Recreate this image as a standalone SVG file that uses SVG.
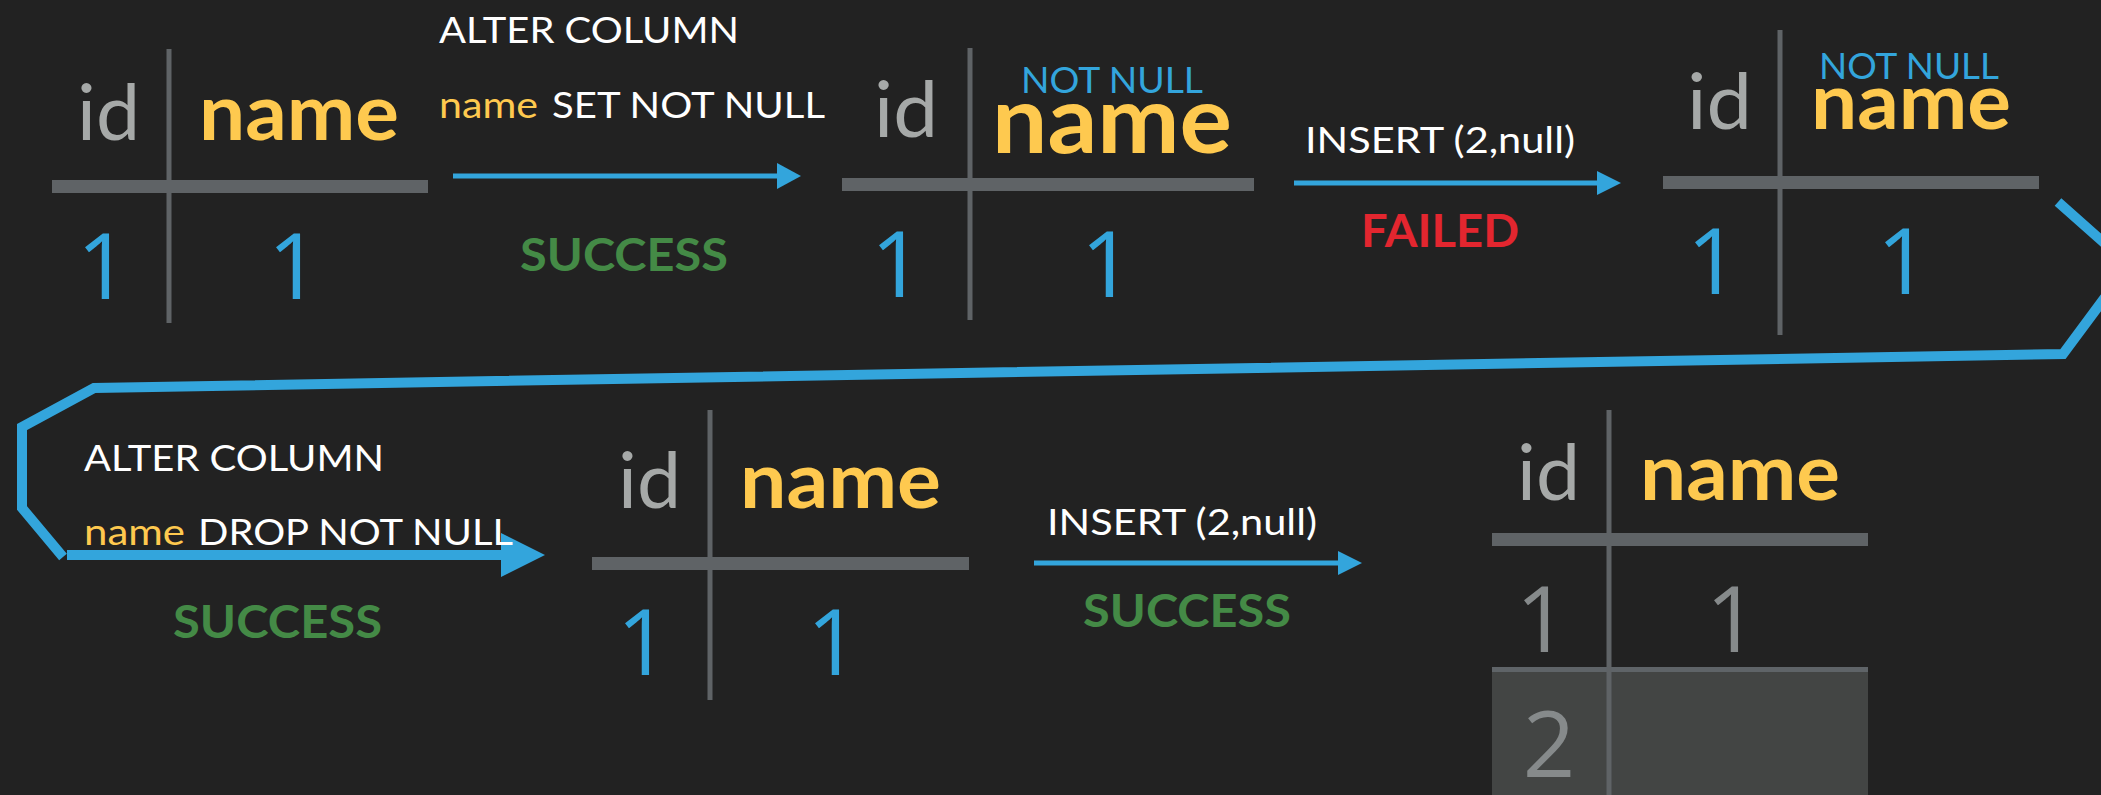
<svg xmlns="http://www.w3.org/2000/svg" width="2101" height="795" viewBox="0 0 2101 795">
<style>
text{font-family:Lato,"Open Sans","Liberation Sans",sans-serif}
.id{fill:#a6a9a8;font-size:78px}
.nm{fill:#fec94f;font-size:78px;font-weight:700}
.nmb{fill:#fec94f;font-size:94px;font-weight:700}
.v,.vg{font-family:"Open Sans","Noto Sans",sans-serif;font-size:92px;text-anchor:middle}
.v{fill:#33a5dc}
.vg{fill:#868a8b}
.nn{fill:#33a5dc;font-size:36px}
.w{fill:#ffffff;font-size:37px}
.y{fill:#fec94f;font-size:37px}
.ok{fill:#448a46;font-size:46px;font-weight:700}
.bad{fill:#e3262f;font-size:46px;font-weight:700}
.bar{fill:#5f6366}
.div{stroke:#5f6366;stroke-width:5}
.ln{stroke:#33a5dc;stroke-width:5;fill:none}
.big{stroke:#33a5dc;stroke-width:10;fill:none;stroke-linejoin:miter}
.hd{fill:#33a5dc}
</style>
<rect width="2101" height="795" fill="#222222"/>

<g id="table1">
<line class="div" x1="169" y1="49" x2="169" y2="323"/>
<rect class="bar" x="52" y="180" width="376" height="13"/>
<text class="id" x="77" y="140" textLength="63" lengthAdjust="spacingAndGlyphs">id</text>
<text class="nm" x="199" y="140" textLength="200" lengthAdjust="spacingAndGlyphs">name</text>
<text class="v" x="103" y="299">1</text>
<text class="v" x="294" y="299">1</text>
</g>

<g id="table2">
<line class="div" x1="970" y1="48" x2="970" y2="320"/>
<rect class="bar" x="842" y="178" width="412" height="13"/>
<text class="id" x="874" y="137" textLength="64" lengthAdjust="spacingAndGlyphs">id</text>
<text class="nn" x="1021" y="93" textLength="182" lengthAdjust="spacingAndGlyphs">NOT NULL</text>
<text class="nmb" x="992" y="153" textLength="240" lengthAdjust="spacingAndGlyphs">name</text>
<text class="v" x="897" y="297">1</text>
<text class="v" x="1107" y="297">1</text>
</g>

<g id="table3">
<line class="div" x1="1780" y1="30" x2="1780" y2="335"/>
<rect class="bar" x="1663" y="176" width="376" height="13"/>
<text class="id" x="1687" y="129" textLength="65" lengthAdjust="spacingAndGlyphs">id</text>
<text class="nn" x="1819" y="79" textLength="180" lengthAdjust="spacingAndGlyphs">NOT NULL</text>
<text class="nm" x="1811" y="129" textLength="200" lengthAdjust="spacingAndGlyphs">name</text>
<text class="v" x="1713" y="294">1</text>
<text class="v" x="1903" y="294">1</text>
</g>

<g id="table4">
<line class="div" x1="710" y1="410" x2="710" y2="700"/>
<rect class="bar" x="592" y="557" width="377" height="13"/>
<text class="id" x="618" y="508" textLength="63" lengthAdjust="spacingAndGlyphs">id</text>
<text class="nm" x="740" y="508" textLength="201" lengthAdjust="spacingAndGlyphs">name</text>
<text class="v" x="643" y="675">1</text>
<text class="v" x="833" y="675">1</text>
</g>

<g id="table5">
<rect x="1492" y="667" width="376" height="128" fill="#434544"/>
<rect x="1492" y="667" width="376" height="5" fill="#5f6468"/>
<line class="div" x1="1609" y1="410" x2="1609" y2="795"/>
<rect class="bar" x="1492" y="533" width="376" height="13"/>
<text class="id" x="1517" y="500" textLength="63" lengthAdjust="spacingAndGlyphs">id</text>
<text class="nm" x="1640" y="500" textLength="200" lengthAdjust="spacingAndGlyphs">name</text>
<text class="vg" x="1542" y="652">1</text>
<text class="vg" x="1732" y="652">1</text>
<text class="vg" x="1549" y="777">2</text>
</g>

<g id="connectors">
<line class="ln" x1="453" y1="176" x2="779" y2="176"/>
<polygon class="hd" points="777,163 801,176 777,189"/>
<line class="ln" x1="1294" y1="183" x2="1599" y2="183"/>
<polygon class="hd" points="1597,171 1621,183 1597,195"/>
<line class="ln" x1="1034" y1="563" x2="1340" y2="563"/>
<polygon class="hd" points="1338,551 1362,563 1338,575"/>
<polyline class="big" points="2058,202 2129,265 2063,354 94,388 22,427 22,508 63,557"/>
<line class="big" x1="67" y1="555" x2="503" y2="555"/>
<polygon class="hd" points="501,533 545,555 501,577"/>
</g>

<g id="labels">
<text class="w" x="439" y="43" textLength="300" lengthAdjust="spacingAndGlyphs">ALTER COLUMN</text>
<text class="y" x="439" y="118" textLength="99" lengthAdjust="spacingAndGlyphs">name</text>
<text class="w" x="552" y="118" textLength="273" lengthAdjust="spacingAndGlyphs">SET NOT NULL</text>
<text class="ok" x="520" y="271" textLength="208" lengthAdjust="spacingAndGlyphs">SUCCESS</text>
<text class="w" x="1305" y="153" textLength="270" lengthAdjust="spacingAndGlyphs">INSERT (2,null)</text>
<text class="bad" x="1361" y="247" textLength="158" lengthAdjust="spacingAndGlyphs">FAILED</text>
<text class="w" x="84" y="471" textLength="300" lengthAdjust="spacingAndGlyphs">ALTER COLUMN</text>
<text class="y" x="84" y="545" textLength="101" lengthAdjust="spacingAndGlyphs">name</text>
<text class="w" x="198" y="545" textLength="315" lengthAdjust="spacingAndGlyphs">DROP NOT NULL</text>
<text class="ok" x="173" y="638" textLength="209" lengthAdjust="spacingAndGlyphs">SUCCESS</text>
<text class="w" x="1047" y="535" textLength="270" lengthAdjust="spacingAndGlyphs">INSERT (2,null)</text>
<text class="ok" x="1083" y="627" textLength="208" lengthAdjust="spacingAndGlyphs">SUCCESS</text>
</g>
</svg>
